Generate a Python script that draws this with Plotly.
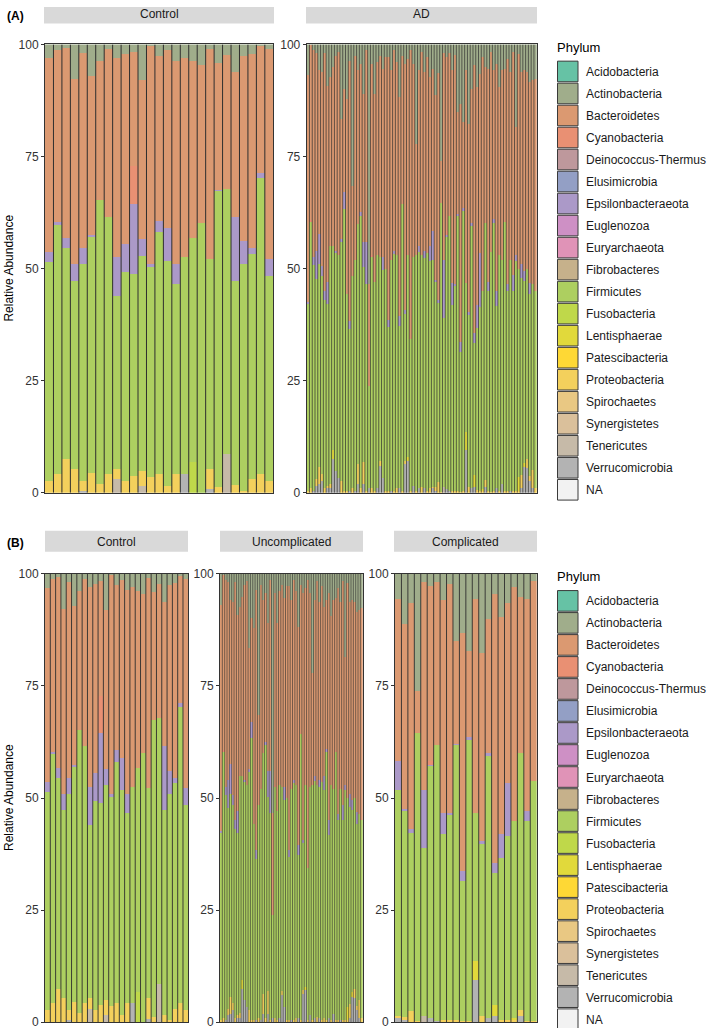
import plotly.graph_objects as go

# window size, and the vertical mapping of page pixels onto the photographed picture
WIN_W, WIN_H = 709, 1028
Y_OFF, Y_SCALE = 6.6, 0.9857
W = WIN_W
H = 1036  # page height needed so that the picture's bottom rows are covered

# ---------------- legend categories & colours ----------------
phyla = ["Acidobacteria", "Actinobacteria", "Bacteroidetes", "Cyanobacteria",
         "Deinococcus-Thermus", "Elusimicrobia", "Epsilonbacteraeota", "Euglenozoa",
         "Euryarchaeota", "Fibrobacteres", "Firmicutes", "Fusobacteria",
         "Lentisphaerae", "Patescibacteria", "Proteobacteria", "Spirochaetes",
         "Synergistetes", "Tenericutes", "Verrucomicrobia", "NA"]
phylum_colors = ["#66C2A5", "#A0AD8B", "#DB9971", "#E99073", "#BE989C", "#939FC5",
                 "#AB99C8", "#CE90C5", "#E093B7", "#C6B18B", "#ADCF60", "#BFD84A",
                 "#E1D93B", "#FED835", "#F3D05C", "#E9C883", "#DAC09B", "#C6BAA8",
                 "#B3B3B3", "#F2F2F2"]

# ---------------- Control (27 samples) ----------------
ctrl_actino = [3.1, 1.2, 0.8, 7.8, 1.9, 7.1, 3.8, 1.1, 3.0, 2.2, 1.7, 8.0, 0.3, 2.5, 1.3, 3.7, 3.0, 3.8, 4.5, 1.0, 4.1, 2.3, 6.2, 2.5, 2.1, 0.4, 1.1]
ctrl_bact = [43.3, 38.5, 42.4, 41.2, 43.6, 35.5, 31.0, 37.4, 44.5, 42.3, 25.5, 35.5, 48.7, 36.8, 39.7, 45.3, 44.5, 39.4, 35.4, 46.8, 28.4, 29.9, 32.2, 41.4, 43.4, 28.3, 46.7]
ctrl_cyano = [0, 0, 0, 0, 0, 0, 0, 0, 0, 0, 8.4, 0, 0, 0, 0, 0, 0, 0, 0, 0, 0, 0, 0, 0, 0, 0, 0]
ctrl_eps = [2.2, 0.5, 2.3, 3.7, 3.5, 0.4, 0, 0, 8.5, 6.2, 15.6, 3.6, 0.7, 2.6, 7.2, 4.4, 0, 0, 0, 0, 0.2, 0, 14.3, 5.1, 1.2, 1.1, 3.8]
ctrl_firm = [48.7, 55.6, 47.0, 42.0, 48.3, 52.5, 63.2, 57.2, 38.7, 46.6, 45.0, 48.0, 46.7, 53.9, 50.2, 42.3, 48.2, 50.0, 60.1, 46.9, 66.1, 59.2, 45.6, 50.5, 50.3, 65.9, 45.7]
ctrl_fuso = [0, 0, 0, 0, 0, 0, 0, 0, 0, 0, 0, 0, 0, 0, 0, 0, 0, 6.8, 0, 0, 0, 0, 0, 0, 0, 0, 0]
ctrl_proteo = [2.7, 4.2, 7.5, 5.3, 2.2, 4.5, 2.0, 4.3, 2.3, 2.7, 3.8, 3.4, 3.6, 4.2, 1.6, 4.3, 0, 0, 0, 4.5, 1.2, 0, 1.7, 0.5, 3.0, 4.3, 2.7]
ctrl_teneric = [0, 0, 0, 0, 0, 0, 0, 0, 3.0, 0, 0, 1.5, 0, 0, 0, 0, 0, 0, 0, 0, 0, 8.6, 0, 0, 0, 0, 0]
ctrl_verruco = [0, 0, 0, 0, 0.5, 0, 0, 0, 0, 0, 0, 0, 0, 0, 0, 0, 4.3, 0, 0, 0.8, 0, 0, 0, 0, 0, 0, 0]

# ---------------- Uncomplicated AD (61 samples) ----------------
unc_actino = [6.9, 0.2, 1.3, 1.9, 5.8, 6.2, 1.9, 9.2, 7.3, 5.1,
              2.5, 1.7, 16.6, 9.9, 12.1, 3.6, 31.5, 2.5, 5.8, 4.3,
              11.0, 1.3, 53.4, 4.3, 11.0, 3.9, 2.5, 5.4, 2.8, 2.8,
              5.8, 1.3, 3.9, 11.8, 2.5, 4.3, 3.2, 1.3, 4.3, 22.2,
              5.8, 1.7, 6.2, 2.8, 7.3,
              5.8, 4.3, 9.5, 5.8, 5.4, 3.2, 6.2, 1.7, 18.5, 2.1,
              6.2, 5.8, 6.2, 8.4, 8.0, 7.7]
unc_bact = [50.5, 39.0, 46.2, 44.1, 36.5, 43.2, 53.1, 43.8, 37.7, 39.9,
            43.5, 45.3, 26.9, 23.1, 43.6, 58.0, 20.1, 45.5, 34.2, 33.1,
            33.0, 42.7, 22.7, 42.7, 42.0, 43.1, 45.0, 42.1, 47.2, 58.7,
            42.2, 44.7, 43.1, 48.7, 33.2, 55.0, 43.8, 64.4, 43.2, 24.8,
            39.2, 45.3, 39.8, 43.7, 37.7,
            33.2, 50.7, 37.5, 42.2, 34.3, 50.3, 41.8, 49.8, 28.5, 47.9,
            42.8, 44.7, 43.8, 44.7, 45.5, 47.3]
unc_cyano = [0, 0.5, 0, 0, 0, 0, 0, 0, 0, 0,
             0, 0, 0, 0, 0, 0, 0, 0, 0, 0,
             0, 0, 0, 0.5, 0, 0, 0, 0, 0, 0,
             0, 0, 0, 0, 0, 0, 0, 0, 0, 0,
             0, 0, 0, 0, 0,
             0, 0, 0, 0, 0, 0, 0, 0, 0, 0,
             0, 0, 0, 0, 0, 0]
unc_eps = [0.5, 0, 1.8, 6.3, 6.7, 2.2, 2.0, 4.9, 0, 0,
           0.5, 0, 0.6, 3.7, 0, 1.9, 0, 0, 0, 0.8,
           5.7, 9.4, 0, 0, 0, 0, 0, 2.9, 0, 1.6,
           0, 0.7, 0, 2.2, 0, 0.8, 0, 0, 0, 0,
           1.2, 0, 1.6, 0, 3.2,
           0.8, 3.3, 0, 0, 0, 1.4, 0, 3.5, 1.2, 0,
           3.0, 2.2, 0, 2.6, 0, 0]
unc_firm = [41.6, 59.3, 50.2, 44.7, 45.3, 44.2, 42.0, 40.6, 53.0, 45.5,
            48.6, 49.6, 53.2, 62.8, 43.8, 36.0, 47.4, 51.5, 53.6, 60.8,
            43.4, 46.1, 22.9, 51.5, 46.5, 52.0, 45.5, 46.2, 49.5, 36.4,
            51.5, 52.8, 52.0, 36.3, 63.8, 32.8, 45.1, 33.8, 51.0, 52.5,
            52.8, 51.8, 51.4, 53.0, 50.8,
            59.7, 40.7, 52.5, 50.1, 59.8, 44.6, 51.5, 44.5, 51.3, 46.5,
            44.0, 40.6, 42.5, 40.6, 41.5, 44.0]
unc_lenti = [0, 0, 0, 0, 0, 0, 0, 0, 0, 2.0,
             0, 0, 0, 0, 0, 0, 0, 0, 0, 0,
             0, 0, 0, 0, 0, 0, 0, 0, 0, 0,
             0, 0, 0, 0, 0, 0, 0.8, 0, 0, 0,
             0, 0, 0, 0, 0,
             0, 0, 0, 0, 0, 0, 0, 0, 0, 3.0,
             0, 1.0, 0, 0, 0, 0]
unc_proteo = [0.5, 1.0, 0, 1.5, 3.8, 1.5, 1.0, 0.5, 1.0, 0,
              0, 0, 2.7, 0.5, 0.5, 0, 1.0, 0, 4.5, 1.0,
              5.0, 0.5, 0, 1.0, 0.5, 0, 1.0, 0, 0.5, 0.5,
              0, 0.5, 1.0, 0, 0.5, 0.7, 0, 0.5, 0, 0.5,
              0, 1.2, 0, 0.5, 1.0,
              0.5, 0, 0.5, 0, 0.5, 0.5, 0, 0.5, 0.5, 0.5,
              3.0, 0, 2.0, 1.0, 4.0, 1.0]
unc_verruco = [0, 0, 0.5, 1.5, 1.9, 2.7, 0, 1.0, 1.0, 7.5,
               4.9, 3.4, 0, 0, 0, 0.5, 0, 0.5, 1.9, 0,
               1.9, 0, 1.0, 0, 0, 1.0, 6.0, 3.4, 0, 0,
               0.5, 0, 0, 1.0, 0, 6.4, 7.1, 0, 1.5, 0,
               1.0, 0, 1.0, 0, 0,
               0, 1.0, 0, 1.9, 0, 0, 0.5, 0, 0, 0,
               1.0, 5.7, 5.5, 2.7, 1.0, 0]

# ---------------- Complicated AD (22 samples) ----------------
comp_actino = [5.5, 11.2, 6.4, 26.1, 1.9, 2.7, 1.9, 5.8, 2.3, 15.0, 13.2, 17.2, 5.7, 17.7, 10.0, 4.5, 9.6, 6.6, 2.9, 5.1, 5.5, 1.6]
comp_bact = [36.2, 41.3, 50.6, 9.3, 46.2, 39.0, 36.3, 47.5, 51.1, 22.9, 53.1, 19.2, 47.6, 41.9, 29.9, 59.9, 48.5, 40.0, 52.2, 34.8, 47.4, 44.6]
comp_cyano = [0, 0, 0, 0, 0, 0.9, 0, 0, 0, 0, 0, 0, 0, 0, 0, 0, 0, 0, 0, 0, 0, 0]
comp_eps = [6.4, 0.4, 0.7, 0, 13.0, 0.3, 0, 4.8, 0.4, 0.3, 2.2, 0.7, 0, 0.7, 0.7, 2.3, 5.2, 11.9, 0, 0, 2.2, 0]
comp_firm = [50.6, 45.9, 39.8, 64.4, 37.6, 56.2, 61.5, 41.5, 45.8, 61.4, 31.3, 62.6, 33.1, 38.4, 58.4, 29.4, 36.1, 41.0, 44.0, 57.3, 44.6, 53.6]
comp_lenti = [0, 0, 0, 0, 0, 0, 0, 0, 0, 0, 0, 0, 4.1, 0, 0, 2.6, 0, 0, 0.4, 0, 0, 0]
comp_proteo = [0.3, 0.8, 2.5, 0.2, 0, 0, 0, 0.4, 0.4, 0.4, 0.2, 0.3, 0, 1.3, 0, 0, 0.6, 0.5, 0.5, 1.5, 0.3, 0.2]
comp_teneric = [0, 0, 0, 0, 1.3, 0, 0, 0, 0, 0, 0, 0, 0, 0, 0, 0, 0, 0, 0, 0, 0, 0]
comp_verruco = [1.0, 0.4, 0, 0, 0, 0.9, 0.3, 0, 0, 0, 0, 0, 9.5, 0, 1.0, 1.3, 0, 0, 0, 1.3, 0, 0]

# AD facet = all AD samples in sample order: first 45 uncomplicated, then the
# complicated block, then the remaining uncomplicated samples
AD_SPLIT = 45

zeros = lambda n: [0] * n
ctrl = {"Actinobacteria": ctrl_actino, "Bacteroidetes": ctrl_bact, "Cyanobacteria": ctrl_cyano,
        "Epsilonbacteraeota": ctrl_eps, "Firmicutes": ctrl_firm, "Fusobacteria": ctrl_fuso,
        "Lentisphaerae": zeros(27), "Proteobacteria": ctrl_proteo, "Tenericutes": ctrl_teneric,
        "Verrucomicrobia": ctrl_verruco}
unc = {"Actinobacteria": unc_actino, "Bacteroidetes": unc_bact, "Cyanobacteria": unc_cyano,
       "Epsilonbacteraeota": unc_eps, "Firmicutes": unc_firm, "Fusobacteria": zeros(61),
       "Lentisphaerae": unc_lenti, "Proteobacteria": unc_proteo, "Tenericutes": zeros(61),
       "Verrucomicrobia": unc_verruco}
comp = {"Actinobacteria": comp_actino, "Bacteroidetes": comp_bact, "Cyanobacteria": comp_cyano,
        "Epsilonbacteraeota": comp_eps, "Firmicutes": comp_firm, "Fusobacteria": zeros(22),
        "Lentisphaerae": comp_lenti, "Proteobacteria": comp_proteo, "Tenericutes": comp_teneric,
        "Verrucomicrobia": comp_verruco}
ad = {k: unc[k][:AD_SPLIT] + comp[k] + unc[k][AD_SPLIT:] for k in unc}

color_of = dict(zip(phyla, phylum_colors))


# ---------------- geometry (picture pixels -> paper) ----------------
def fx(px):
    return min(max(px / W, 0.0), 1.0)


def fy(py):
    page_y = (py - Y_OFF) / Y_SCALE
    return min(max(1 - page_y / H, 0.0), 1.0)


panels = [
    # axis suffix, data, x0, x1, ytop, ybottom, outline width between bars
    ("", ctrl, 45.0, 273.3, 44.0, 492.0, 1.0),
    ("2", ad, 306.7, 536.7, 44.0, 492.0, 0.7),
    ("3", ctrl, 45.0, 188.3, 573.0, 1021.0, 0.9),
    ("4", unc, 220.0, 362.7, 573.0, 1021.0, 0.6),
    ("5", comp, 395.0, 536.7, 573.0, 1021.0, 0.9),
]

FONT = "Liberation Sans, Arial, Helvetica, sans-serif"
OUTLINE = "#2E2E2E"
fig = go.Figure()

# stacking: ggplot puts first factor level on top -> add in reverse order
stack_order = [p for p in reversed(phyla) if p in ctrl]

layout_axes = {}
for suf, data, x0, x1, yt, yb, lw in panels:
    n = len(data["Firmicutes"])
    xs = list(range(n))
    for ph in stack_order:
        fig.add_trace(go.Bar(
            x=xs, y=data[ph], name=ph, width=1.0,
            marker=dict(color=color_of[ph], line=dict(width=0)),
            xaxis="x" + suf, yaxis="y" + suf, showlegend=False,
            hoverinfo="skip"))
    # dark outline between neighbouring sample bars
    sx, sy = [], []
    for i in range(n - 1):
        sx += [i + 0.5, i + 0.5, None]
        sy += [0, 100, None]
    fig.add_trace(go.Scatter(
        x=sx, y=sy, mode="lines", line=dict(color=OUTLINE, width=lw),
        xaxis="x" + suf, yaxis="y" + suf, showlegend=False, hoverinfo="skip"))
    layout_axes["xaxis" + suf] = dict(
        domain=[fx(x0), fx(x1)], anchor="y" + suf, range=[-0.5, n - 0.5],
        showticklabels=False, ticks="", showgrid=False, zeroline=False,
        showline=True, linecolor="#333333", linewidth=1, mirror=True)
    layout_axes["yaxis" + suf] = dict(
        domain=[fy(yb), fy(yt)], anchor="x" + suf, range=[0, 100],
        tickvals=[0, 25, 50, 75, 100], ticktext=["0", "25", "50", "75", "100"],
        ticks="outside", ticklen=3, tickwidth=1, tickcolor="#333333",
        tickfont=dict(family=FONT, size=12, color="#333333"),
        showgrid=False, zeroline=False, showline=True, linecolor="#333333",
        linewidth=1, mirror=True)

shapes = []
annotations = []

# strips
strips = [("Control", 44, 274, 2, 23), ("AD", 306, 537, 2, 23),
          ("Control", 45, 188, 530, 551), ("Uncomplicated", 220, 363, 530, 551),
          ("Complicated", 394, 537, 530, 551)]
for label, sx0, sx1, sy0, sy1 in strips:
    shapes.append(dict(type="rect", xref="paper", yref="paper",
                       x0=fx(sx0), x1=fx(sx1), y0=fy(sy1), y1=fy(sy0),
                       fillcolor="#D9D9D9", line=dict(width=0), layer="below"))
    annotations.append(dict(text=label, x=fx((sx0 + sx1) / 2), y=fy((sy0 + sy1) / 2 + 1),
                            xref="paper", yref="paper", showarrow=False,
                            xanchor="center", yanchor="middle",
                            font=dict(family=FONT, size=12, color="#1A1A1A")))

# panel tags
annotations.append(dict(text="<b>(A)</b>", x=fx(5), y=1.0, xref="paper",
                        yref="paper", showarrow=False, xanchor="left",
                        yanchor="top", font=dict(family=FONT, size=12, color="#000000")))
annotations.append(dict(text="<b>(B)</b>", x=fx(5), y=fy(542), xref="paper",
                        yref="paper", showarrow=False, xanchor="left",
                        yanchor="middle", font=dict(family=FONT, size=12, color="#000000")))

# y-axis titles
for cy in [268, 797]:
    annotations.append(dict(text="Relative Abundance", x=fx(9), y=fy(cy), xref="paper",
                            yref="paper", showarrow=False, textangle=-90,
                            xanchor="center", yanchor="middle",
                            font=dict(family=FONT, size=12, color="#000000")))

# legends (drawn as keys + labels)
for top_title, first_c, step in [(47, 71, 22.0), (576, 600, 22.0)]:
    annotations.append(dict(text="Phylum", x=fx(555), y=fy(top_title), xref="paper",
                            yref="paper", showarrow=False, xanchor="left",
                            yanchor="middle", font=dict(family=FONT, size=13, color="#000000")))
    for i, (ph, col) in enumerate(zip(phyla, phylum_colors)):
        c = first_c + i * step
        shapes.append(dict(type="rect", xref="paper", yref="paper",
                           x0=fx(557.5), x1=fx(578), y0=fy(c + 10.3), y1=fy(c - 10.3),
                           fillcolor=col, line=dict(color="#3A3A3A", width=1)))
        annotations.append(dict(text=ph, x=fx(584), y=fy(c + 0.5), xref="paper",
                                yref="paper", showarrow=False, xanchor="left",
                                yanchor="middle",
                                font=dict(family=FONT, size=12, color="#1A1A1A")))

fig.update_layout(
    width=W, height=H, margin=dict(l=0, r=0, t=0, b=0),
    barmode="stack", bargap=0,
    paper_bgcolor="white", plot_bgcolor="white",
    showlegend=False, shapes=shapes, annotations=annotations,
    font=dict(family=FONT),
    **layout_axes)

# pin the figure to the window's top-left corner (no page margin / scrollbars)
pin_js = ("document.documentElement.style.margin='0';"
          "document.body.style.margin='0';"
          "document.documentElement.style.overflow='hidden';"
          "document.body.style.overflow='hidden';"
          "var d=document.getElementById('{plot_id}');"
          "d.style.position='fixed';d.style.left='0px';d.style.top='0px';")

fig.write_html("out.html", config={"staticPlot": True}, post_script=pin_js)
